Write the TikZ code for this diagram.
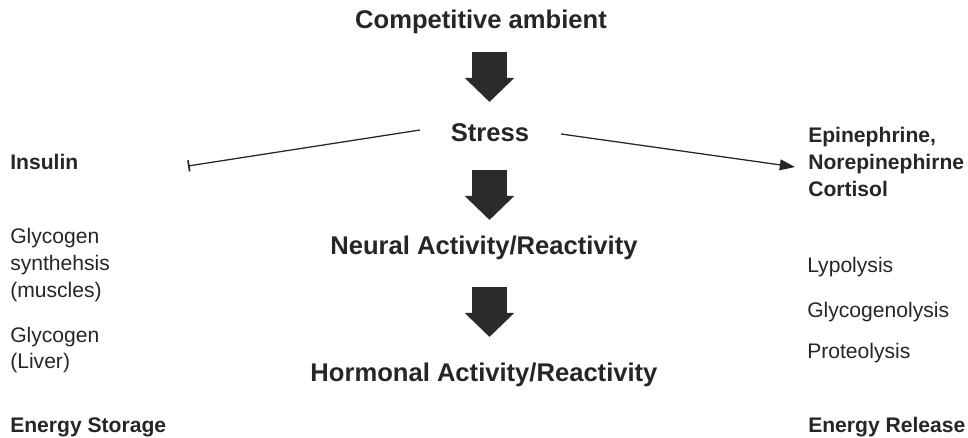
\documentclass[tikz,border=0pt]{standalone}
\usepackage{fontspec}
\setmainfont{Liberation Sans}
\usetikzlibrary{arrows.meta}
\definecolor{ink}{HTML}{262626}
\definecolor{blockink}{HTML}{2B2B2B}

\begin{document}
\begin{tikzpicture}[
    x=0.025cm, y=-0.025cm,
	stage/.style={
	  font=\fontsize{18.2}{22}\selectfont\bfseries,
	  text=ink,
	  inner sep=0pt
	},
	side/.style={
	  font=\fontsize{15}{19}\selectfont,
	  text=ink,
	  anchor=west,
	  align=left,
	  inner sep=0pt
	},
	sidebold/.style={
	  side,
	  font=\fontsize{15}{19}\selectfont\bfseries
	},
	bigarrow/.style={
	  draw=blockink,
	  line width=0.875cm,
	  -{Triangle[length=0.6cm, width=1.2cm]}
	},
	inhibit/.style={draw=ink, line width=0.9pt, -{Bar[width=0.28cm, line width=1.2pt]}},
 	line/.style={draw=ink, line width=0.9pt, -{Triangle[length=0.38cm, width=0.27cm]}}
	]
	\useasboundingbox (0, 0) rectangle (968, 438);
    \node at (481, 22) [stage] (ambient) {Competitive ambient};
	\node at (490, 133) [stage] (stress) {Stress};
	\node at (484, 248) [stage] (neural) {Neural Activity/Reactivity};
	\node at (484, 375) [stage] (hormonal) {Hormonal Activity/Reactivity};
	\node at (10, 162) [sidebold] (insulin) {Insulin};
	\node at (10, 265) [side] (synthesis) {Glycogen\\synthehsis\\(muscles)};
	\node at (10, 350) [side] (liver) {Glycogen\\(Liver)};
	\node at (10, 427) [sidebold] (storage) {Energy Storage};
	\node at (808, 162) [sidebold] (hormones) {Epinephrine,\\Norepinephirne\\Cortisol};
	\node at (807, 267) [side] (lypolysis) {Lypolysis};
	\node at (807, 312) [side] (glycogenolysis) {Glycogenolysis};
	\node at (807, 353) [side] (proteolysis) {Proteolysis};
	\node at (808, 427) [sidebold] (release) {Energy Release};
	\coordinate (a1top) at (489.5, 52);
	\coordinate (a1tip) at (489.5, 102);
	\coordinate (a2top) at (489.5, 170);
	\coordinate (a2tip) at (489.5, 220);
	\coordinate (a3top) at (489.5, 287);
	\coordinate (a3tip) at (489.5, 337);
	\coordinate (inhstart) at (420, 130);
	\coordinate (inhend) at (188, 166);
	\coordinate (actstart) at (561, 134);
	\coordinate (actend) at (795, 167);
	\path[bigarrow] (a1top) -- (a1tip);
	\path[bigarrow] (a2top) -- (a2tip);
	\path[bigarrow] (a3top) -- (a3tip);
	\path[inhibit] (inhstart) -- (inhend);
	\path[line] (actstart) -- (actend);
  \end{tikzpicture}
\end{document}
